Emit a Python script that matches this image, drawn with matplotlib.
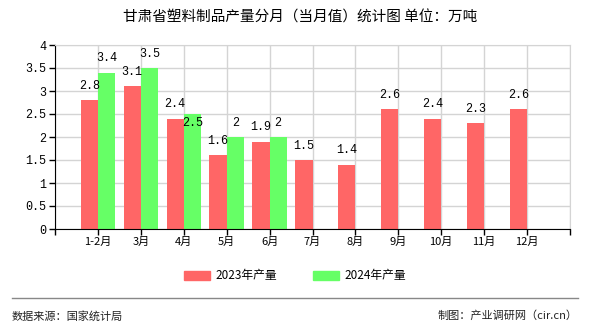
import matplotlib.pyplot as plt
from matplotlib.patches import Patch

plt.rcParams['font.family'] = ['Noto Sans CJK SC', 'DejaVu Sans']

months = ["1-2月", "3月", "4月", "5月", "6月", "7月", "8月", "9月", "10月", "11月", "12月"]
val_2023 = [2.8, 3.1, 2.4, 1.6, 1.9, 1.5, 1.4, 2.6, 2.4, 2.3, 2.6]
val_2024 = [3.4, 3.5, 2.5, 2, 2]
label_2023 = ["2.8", "3.1", "2.4", "1.6", "1.9", "1.5", "1.4", "2.6", "2.4", "2.3", "2.6"]
label_2024 = ["3.4", "3.5", "2.5", "2", "2"]

RED = "#FF6666"
GREEN = "#66FF66"
GRID = "#d4d4d4"
MONO = "Liberation Mono"

fig = plt.figure(figsize=(5.9, 3.3), dpi=100)
ax = fig.add_axes([55 / 590, 1 - 229 / 330, 515 / 590, 184 / 330])

w = 0.40
x23 = [i + 1 - w / 2 for i in range(len(val_2023))]
x24 = [i + 1 + w / 2 for i in range(len(val_2024))]
ax.bar(x23, val_2023, width=w, color=RED, zorder=2)
ax.bar(x24, val_2024, width=w, color=GREEN, zorder=2)

for x, v, t in zip(x23, val_2023, label_2023):
    ax.annotate(t, (x, v), xytext=(0, 6), textcoords="offset points",
                ha="center", va="bottom", fontsize=8.5, family=MONO, zorder=3)
for i, (x, v, t) in enumerate(zip(x24, val_2024, label_2024)):
    # 4月的标签与2023年标签重叠，下移到柱内
    if i == 2:
        ax.annotate(t, (x, v), xytext=(0, -2), textcoords="offset points",
                    ha="center", va="top", fontsize=8.5, family=MONO, zorder=3)
    else:
        ax.annotate(t, (x, v), xytext=(0, 6), textcoords="offset points",
                    ha="center", va="bottom", fontsize=8.5, family=MONO, zorder=3)

ax.set_xlim(0, 12)
ax.set_ylim(0, 4)
ax.set_xticks(range(13))
ax.set_xticklabels([""] + months + [""], fontsize=8)
ax.set_yticks([i * 0.5 for i in range(9)])
ax.set_yticklabels(["0", "0.5", "1", "1.5", "2", "2.5", "3", "3.5", "4"],
                   fontsize=8.5, family=MONO)
ax.grid(True, color=GRID, linewidth=1, zorder=0)
ax.set_axisbelow(True)
for s in ["top", "right"]:
    ax.spines[s].set_color(GRID)
ax.spines["left"].set_color("black")
ax.spines["bottom"].set_color("black")
ax.tick_params(axis="both", direction="out", length=4, width=1, pad=2)

fig.text(0.508, 1 - 18 / 330, "甘肃省塑料制品产量分月（当月值）统计图 单位：万吨",
         ha="center", va="center", fontsize=10.5)

handles = [Patch(color=RED, label="2023年产量"), Patch(color=GREEN, label="2024年产量")]
fig.legend(handles=handles, loc="center", bbox_to_anchor=(0.5, 1 - 276 / 330), ncol=2,
           frameon=False, fontsize=8.5, handlelength=2.2, handleheight=0.8,
           columnspacing=3, handletextpad=0.5)

fig.add_artist(plt.Line2D([12 / 590, 578 / 590], [1 - 298 / 330] * 2,
                          color="#888888", linewidth=1))
fig.text(12 / 590, 1 - 316 / 330, "数据来源：国家统计局", ha="left", va="center",
         fontsize=8, color="#222222")
fig.text(578 / 590, 1 - 316 / 330, "制图：产业调研网（cir.cn）", ha="right", va="center",
         fontsize=8, color="#222222")

fig.savefig("out.png", dpi=100, facecolor="white")
